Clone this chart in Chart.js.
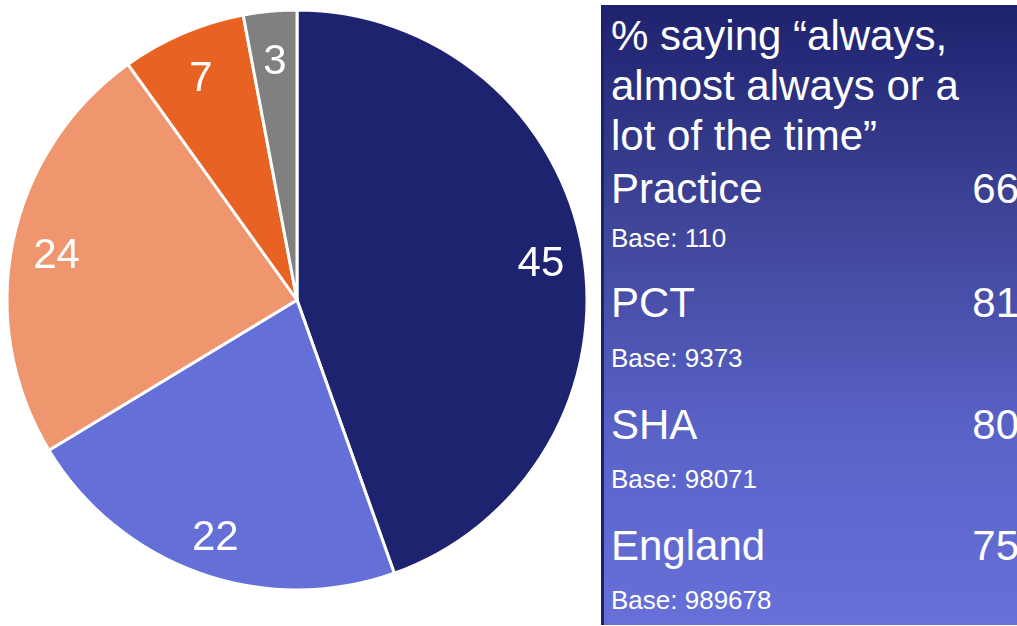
<!DOCTYPE html>
<html>
<head>
<meta charset="utf-8">
<script src="https://cdn.jsdelivr.net/npm/chart.js@4/dist/chart.umd.min.js"></script>
<style>
  body { margin: 0; width: 1017px; height: 626px; overflow: hidden; background: #fff; font-family: "Liberation Sans", Arial, sans-serif; }
  #wrap { position: absolute; left: 0; top: 0; width: 594px; height: 600px; }
  #panel {
    position: absolute; left: 601px; top: 5px; width: 416px; height: 620px;
    box-sizing: border-box; border-left: 3px solid #1c2070;
    background: linear-gradient(to bottom, #1e226e 0%, #3f4598 35%, #5a63c8 70%, #6670d8 100%);
    color: #fff; overflow: hidden;
  }
  .t { position: absolute; left: 7px; white-space: nowrap; }
  .big { font-size: 42px; line-height: 50px; }
  .small { font-size: 26px; line-height: 30px; }
  .val { position: absolute; right: -2px; font-size: 42px; line-height: 50px; }
</style>
</head>
<body>
<div id="wrap"><canvas id="myChart"></canvas></div>
<div id="panel"></div>
<script>
const labels = ['Always', 'Almost always', 'A lot of the time', 'Some of the time', 'Never'];
const values = [45, 22, 24, 7, 3];
const colors = ['#1e2370', '#6470d8', '#f0966e', '#e86223', '#808080'];

const panelTitle = ['% saying \u201calways,', 'almost always or a', 'lot of the time\u201d'];
const groups = ['Practice', 'PCT', 'SHA', 'England'];
const groupValues = [66, 81, 80, 75];
const groupBases = ['Base: 110', 'Base: 9373', 'Base: 98071', 'Base: 989678'];

// panel text (baselines)
const panel = document.getElementById('panel')
const rowBase = [198, 312, 434, 555]
const subBase = [242, 362, 483, 604]
let html = ''
panelTitle.forEach((line, i) => {
  html += `<div class="t big" style="top:${5.5 + i * 50}px">${line}</div>`
})
groups.forEach((g, i) => {
  html += `<div class="t big" style="top:${rowBase[i] - 39.5}px">${g}</div>`
  html += `<div class="val" style="top:${rowBase[i] - 39.5}px">${groupValues[i]}</div>`
  html += `<div class="t small" style="top:${subBase[i] - 24}px">${groupBases[i]}</div>`
})
panel.innerHTML = html

const sliceLabels = {
  id: 'sliceLabels',
  afterDatasetsDraw(chart) {
    const c = chart.ctx
    const meta = chart.getDatasetMeta(0)
    c.save()
    c.fillStyle = '#fff'
    c.font = '42px "Liberation Sans", Arial, sans-serif'
    c.textAlign = 'center'
    c.textBaseline = 'middle'
    meta.data.forEach((arc, i) => {
      const p = arc.getProps(['x', 'y', 'startAngle', 'endAngle', 'outerRadius'], true)
      const mid = (p.startAngle + p.endAngle) / 2
      const r = p.outerRadius * 0.85
      const dy = i === 4 ? 8 : 6
      c.fillText(values[i], p.x + Math.cos(mid) * r + 1, p.y + Math.sin(mid) * r + dy)
    })
    c.restore()
  }
}

new Chart(document.getElementById('myChart'), {
  type: 'pie',
  data: {
    labels: labels,
    datasets: [{
      data: values,
      backgroundColor: colors,
      borderColor: '#fff',
      borderWidth: 3,
      radius: 290
    }]
  },
  options: {
    responsive: true,
    maintainAspectRatio: false,
    animation: false,
    plugins: {
      legend: { display: false },
      tooltip: { enabled: false }
    }
  },
  plugins: [sliceLabels]
})
</script>
</body>
</html>
